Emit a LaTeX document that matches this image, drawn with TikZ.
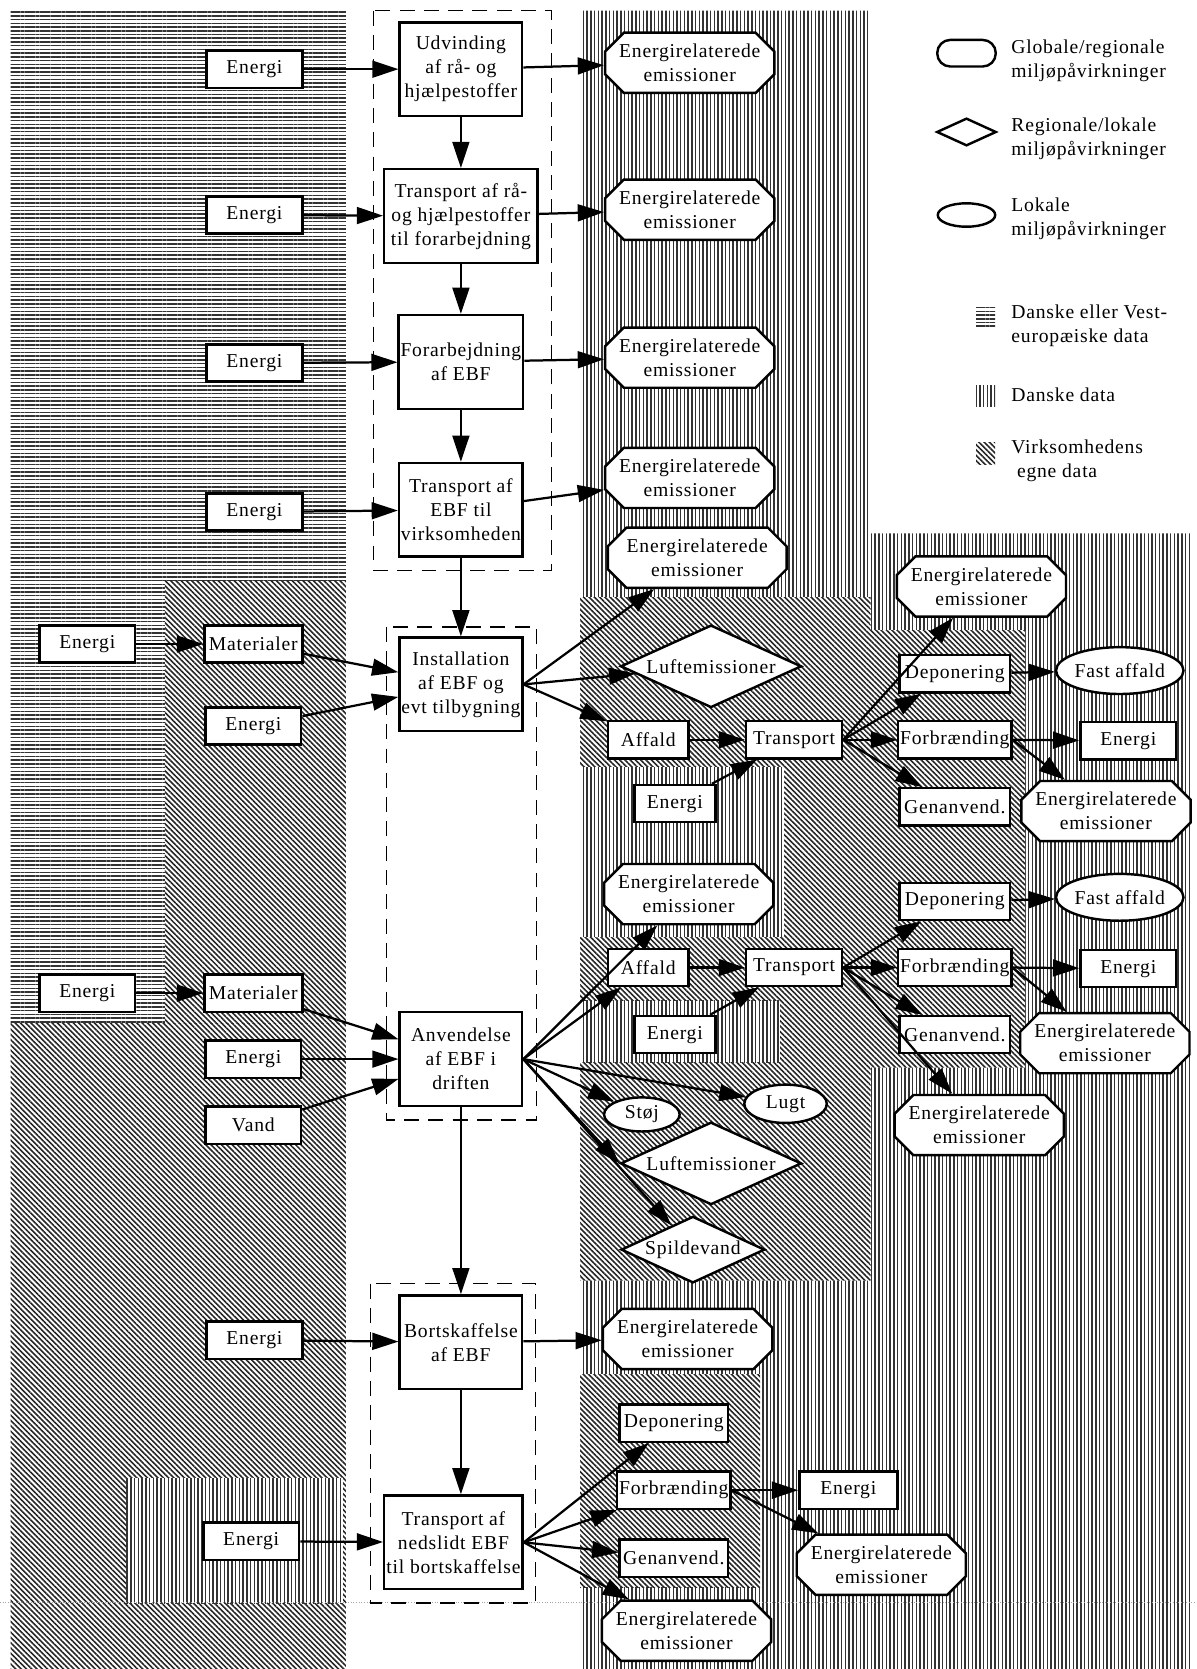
\documentclass[tikz,border=0pt]{standalone}
\usepackage{fontspec}
\setmainfont{Liberation Serif}[LetterSpace=4]
\usetikzlibrary{arrows.meta,shapes.geometric,shapes.misc,patterns.meta}

\newcommand{\boxfont}{\fontsize{10.5}{12.8}\selectfont}

\tikzset{
  box/.style={draw, line width=1.3pt, fill=white, align=center, inner sep=1pt, font=\boxfont},
  proc/.style={box, minimum width=2.3cm, minimum height=1.76cm},
  inbox/.style={box, minimum width=1.8cm, minimum height=0.7cm},
  emis/.style={box, chamfered rectangle, chamfered rectangle xsep=5pt, chamfered rectangle ysep=5pt,
    minimum width=3.18cm, minimum height=0.98cm},
  diam/.style={box, diamond, aspect=2.4, inner sep=0pt, minimum width=3.4cm, minimum height=1.55cm},
  ell/.style={box, ellipse, inner sep=0pt, minimum width=2.05cm, minimum height=0.88cm},
  arr/.style={-{Triangle[length=14pt,width=9pt]}, line width=1.2pt},
  grp/.style={line width=0.8pt, dash pattern=on 8pt off 5pt},
  hlines/.style={pattern={Lines[angle=0,distance=2pt,line width=0.8pt]}, pattern color=black!80},
  vlines/.style={pattern={Lines[angle=90,distance=2pt,line width=0.8pt]}, pattern color=black!80},
  dlines/.style={pattern={Lines[angle=-45,distance=2pt,line width=0.85pt]}, pattern color=black!85},
  legtxt/.style={anchor=west, align=left, font=\boxfont}
}

\begin{document}
\begin{tikzpicture}[x=0.02cm, y=-0.02cm]
        \useasboundingbox (0,0) rectangle (1124,1568);
        % Baggrunde (datakilder)
        \fill[hlines] (10,10) rectangle (325,545);
        \fill[hlines] (10,545) rectangle (155,962);
        \fill[dlines] (155,545) rectangle (325,962);
        \fill[dlines] (10,962) rectangle (325,1568);
        \fill[white] (118,1389) rectangle (322,1506);
        \fill[vlines] (118,1389) rectangle (322,1506);
        \fill[vlines] (545,10) -- (818,10) -- (818,501) -- (1118,501) -- (1118,1568) -- (545,1568) -- cycle;
        \fill[white] (545,561) -- (818,561) -- (818,592) -- (963,592) -- (963,1003) -- (818,1003) -- (818,1203) -- (545,1203) -- cycle;
        \fill[dlines] (545,561) -- (818,561) -- (818,592) -- (963,592) -- (963,1003) -- (818,1003) -- (818,1203) -- (545,1203) -- cycle;
        \foreach \ya/\yb/\xb in {721/880/737, 940/998/733} {
            \fill[white] (545,\ya) rectangle (\xb,\yb);
            \fill[vlines] (545,\ya) rectangle (\xb,\yb);
        }
        \fill[white] (545,1291) rectangle (714,1491);
        \fill[dlines] (545,1291) rectangle (714,1491);
        \draw[densely dotted, gray!70, line width=0.4pt] (0,1505) -- (1124,1505);

        % Faser
        \draw[grp] (351,10) rectangle (518,536);
        \draw[grp] (363,589) rectangle (504,1052);
        \draw[grp] (348,1206) rectangle (503,1506);
        \node[proc] (udv) at (433,65) {Udvinding\\af rå- og\\hjælpestoffer};
        \node[proc, minimum width=2.88cm] (tr1) at (433,203) {Transport af rå-\\og hjælpestoffer\\til forarbejdning};
        \node[proc] (forarb) at (433,340) {Forarbejdning\\af EBF};
        \node[proc] (tr2) at (433,479) {Transport af\\EBF til\\virksomheden};
        \node[proc] (inst) at (433,643) {Installation\\af EBF og\\evt tilbygning};
        \node[proc] (anv) at (433,995) {Anvendelse\\af EBF i\\driften};
        \node[proc] (bort) at (433,1261) {Bortskaffelse\\af EBF};
        \node[proc, minimum width=2.6cm] (tr3) at (426,1449) {Transport af\\nedslidt EBF\\til bortskaffelse};

        % Input
        \foreach \i/\y in {1/65, 2/202, 3/341, 4/481} {
            \node[inbox] (en\i) at (239,\y) {Energi};
        }
        \node[inbox] (enA) at (82,605) {Energi};
        \node[inbox, minimum width=1.84cm] (matA) at (238,605) {Materialer};
        \node[inbox] (enB) at (238,682) {Energi};
        \node[inbox] (enD) at (82,933) {Energi};
        \node[inbox, minimum width=1.84cm] (matB) at (238,933) {Materialer};
        \node[inbox] (enE) at (238,995) {Energi};
        \node[inbox] (vand) at (238,1057) {Vand};
        \node[inbox] (enG) at (239,1259) {Energi};
        \node[inbox] (enH) at (236,1448) {Energi};

        % Output
        \node[emis] (em1) at (648,59) {Energirelaterede\\emissioner};
        \node[emis] (em2) at (648,197) {Energirelaterede\\emissioner};
        \node[emis] (em3) at (648,336) {Energirelaterede\\emissioner};
        \node[emis] (em4) at (648,449) {Energirelaterede\\emissioner};
        \node[emis, minimum width=3.36cm] (em5) at (655,524) {Energirelaterede\\emissioner};
        \node[emis] (em6) at (922,551) {Energirelaterede\\emissioner};
        \node[emis] (em7) at (1039,762) {Energirelaterede\\emissioner};
        \node[emis] (em8) at (647,840) {Energirelaterede\\emissioner};
        \node[emis] (em9) at (920,1057) {Energirelaterede\\emissioner};
        \node[emis] (em10) at (1038,980) {Energirelaterede\\emissioner};
        \node[emis] (em11) at (646,1258) {Energirelaterede\\emissioner};
        \node[emis] (em12) at (645,1532) {Energirelaterede\\emissioner};
        \node[emis] (em13) at (828,1470) {Energirelaterede\\emissioner};
        \node[diam] (luft1) at (668,626) {Luftemissioner};
        \node[diam] (luft2) at (668,1093) {Luftemissioner};
        \node[diam, minimum width=2.7cm, minimum height=1.25cm] (spild) at (651,1174) {Spildevand};
        \node[ell] (fast1) at (1052,630) {Fast affald};
        \node[ell] (fast2) at (1052,843) {Fast affald};
        \node[ell, minimum width=1.42cm, minimum height=0.64cm] (stoj) at (603,1047) {Støj};
        \node[ell, minimum width=1.55cm, minimum height=0.72cm] (lugt) at (738,1037) {Lugt};

        % Affald
        \node[inbox, minimum width=1.52cm] (aff1) at (609,695) {Affald};
        \node[inbox] (traA) at (746,695) {Transport};
        \node[inbox, minimum width=1.52cm] (enC) at (634,755) {Energi};
        \node[inbox, minimum width=1.52cm] (aff2) at (609,909) {Affald};
        \node[inbox] (traB) at (746,909) {Transport};
        \node[inbox, minimum width=1.52cm] (enF) at (634,972) {Energi};
        \foreach \n/\y in {1/633, 2/847} {
            \node[inbox, minimum width=2.08cm] (dep\n) at (897,\y) {Deponering};
        }
        \foreach \n/\y in {1/695, 2/909} {
            \node[inbox, minimum width=2.08cm] (forb\n) at (897,\y) {Forbrænding};
            \node[inbox] (enR\n) at (1060,\y+1) {Energi};
        }
        \foreach \n/\y in {1/758, 2/972} {
            \node[inbox, minimum width=2.08cm] (gen\n) at (897,\y) {Genanvend.};
        }
        \node[inbox, minimum width=2.04cm] (dep3) at (633,1337) {Deponering};
        \node[inbox, minimum width=2.04cm] (forb3) at (633,1400) {Forbrænding};
        \node[inbox, minimum width=2.04cm] (gen3) at (633,1464) {Genanvend.};
        \node[inbox, minimum width=1.84cm] (enR3) at (797,1400) {Energi};

        % Pile
        \foreach \a/\b in {en1/udv, en2/tr1, en3/forarb, en4/tr2, udv/tr1, tr1/forarb, forarb/tr2, tr2/inst,
                udv/em1, tr1/em2, forarb/em3, tr2/em4, enA/matA, matA/inst, enB/inst,
                enD/matB, matB/anv, enE/anv, vand/anv, anv/bort, enG/bort, bort/em11, enH/tr3,
                aff1/traA, enC/traA, aff2/traB, enF/traB, dep1/fast1, dep2/fast2} {
            \draw[arr] (\a) -- (\b);
        }
        \draw[arr] (bort.south) -- (bort.south |- tr3.north);
        \foreach \b in {em5, luft1, aff1} \draw[arr] (inst.east) -- (\b);
        \foreach \b in {em8, aff2, lugt, stoj, spild} \draw[arr] (anv.east) -- (\b);
        \draw[arr] (anv.east) -- (luft2.west);
        \foreach \b in {em6, dep1, forb1, gen1} \draw[arr] (traA.east) -- (\b);
        \foreach \b in {dep2, forb2, gen2, em9} \draw[arr] (traB.east) -- (\b);
        \foreach \b in {dep3, forb3, gen3, em12} \draw[arr] (tr3.east) -- (\b);
        \draw[arr] (forb1.east) -- (enR1);
        \draw[arr] (forb1.east) -- (em7);
        \draw[arr] (forb2.east) -- (enR2);
        \draw[arr] (forb2.east) -- (em10);
        \draw[arr] (forb3.east) -- (enR3);
        \draw[arr] (forb3.east) -- (em13);

        % Signaturforklaring
        \node[draw, line width=1.3pt, rounded corners=7pt, minimum width=1.1cm, minimum height=0.5cm] (legG) at (908,50) {};
        \node[draw, line width=1.3pt, diamond, inner sep=0pt, minimum width=1.12cm, minimum height=0.52cm] (legR) at (908,124) {};
        \node[draw, line width=1.3pt, ellipse, inner sep=0pt, minimum width=1.08cm, minimum height=0.44cm] (legL) at (908,202) {};
        \node[legtxt] (txtG) at (944,57) {Globale/regionale\\miljøpåvirkninger};
        \node[legtxt] (txtR) at (944,130) {Regionale/lokale\\miljøpåvirkninger};
        \node[legtxt] (txtL) at (944,206) {Lokale\\miljøpåvirkninger};
        \fill[hlines] (917,289) rectangle (935,309);
        \fill[vlines] (917,362) rectangle (935,382);
        \fill[dlines] (917,416) rectangle (935,436);
        \node[legtxt] (txtH) at (944,306) {Danske eller Vest-\\europæiske data};
        \node[legtxt] (txtV) at (944,371) {Danske data};
        \node[legtxt] (txtD) at (944,433) {Virksomhedens\\\hspace{3pt}egne data};
    \end{tikzpicture}
\end{document}
